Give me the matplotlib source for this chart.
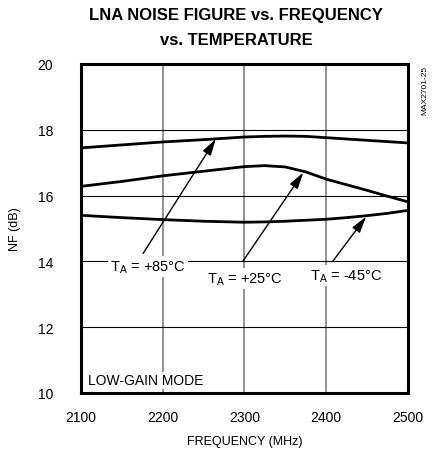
import matplotlib.pyplot as plt

plt.rcParams['font.family'] = ['Liberation Sans', 'DejaVu Sans']

freq = [2100, 2150, 2200, 2250, 2300, 2325, 2350, 2375, 2400, 2425, 2450, 2475, 2500]
nf_85 = [17.45, 17.54, 17.63, 17.70, 17.78, 17.80, 17.81, 17.80, 17.76, 17.72, 17.68, 17.64, 17.60]
nf_25 = [16.28, 16.43, 16.60, 16.74, 16.88, 16.91, 16.87, 16.72, 16.50, 16.33, 16.16, 15.98, 15.81]
nf_m45 = [15.40, 15.33, 15.27, 15.22, 15.19, 15.20, 15.22, 15.25, 15.28, 15.33, 15.39, 15.46, 15.55]

xticks = [2100, 2200, 2300, 2400, 2500]
yticks = [10, 12, 14, 16, 18, 20]

# label text, text position, arrow tip
notes = [
    ('T$_\\mathregular{A}$ = +85°C', (2136, 13.85), (2265, 17.72)),
    ('T$_\\mathregular{A}$ = +25°C', (2254, 13.48), (2372, 16.70)),
    ('T$_\\mathregular{A}$ = -45°C', (2380, 13.58), (2449, 15.36)),
]
tails = [(2176, 14.24), (2298, 14.0), (2408, 14.0)]

fig = plt.figure(figsize=(4.33, 4.56), dpi=100)
ax = fig.add_axes([0.187, 0.136, 0.755, 0.7215])

for x in xticks[1:-1]:
    ax.axvline(x, color='#808080', lw=1.2, zorder=1)
for y in yticks[1:-1]:
    ax.axhline(y, color='black', lw=0.8, zorder=1)

for s in (nf_85, nf_25, nf_m45):
    ax.plot(freq, s, color='black', lw=2.0, zorder=3)

for (txt, pos, tip), tail in zip(notes, tails):
    ax.text(pos[0], pos[1], txt, fontsize=10.5, va='center', ha='left', zorder=2,
            bbox=dict(facecolor='white', edgecolor='none', pad=1.5))
    ax.annotate('', xy=tip, xytext=tail, zorder=4,
                arrowprops=dict(arrowstyle='-|>,head_length=1.0,head_width=0.28',
                                color='black', lw=1.0, shrinkA=0, shrinkB=0))

ax.text(2108, 10.38, 'LOW-GAIN MODE', fontsize=10, va='center', ha='left', zorder=2,
        bbox=dict(facecolor='white', edgecolor='none', pad=1))

ax.set_xlim(2100, 2500)
ax.set_ylim(10, 20)
ax.set_xticks(xticks)
ax.set_yticks(yticks)
ax.tick_params(length=0, labelsize=10, pad=12)
ax.tick_params(axis='y', pad=20)
for sp in ax.spines.values():
    sp.set_linewidth(2.2)

ax.set_xlabel('FREQUENCY (MHz)', fontsize=9, labelpad=8)
ax.set_ylabel('NF (dB)', fontsize=9, labelpad=12)

fig.text(0.545, 0.967, 'LNA NOISE FIGURE vs. FREQUENCY', fontsize=12, fontweight='bold',
         ha='center', va='center')
fig.text(0.545, 0.912, 'vs. TEMPERATURE', fontsize=12, fontweight='bold',
         ha='center', va='center')
fig.text(0.982, 0.855, 'MAX2701-25', fontsize=6, rotation=90, ha='center', va='top')

fig.savefig('out.png', dpi=100)
